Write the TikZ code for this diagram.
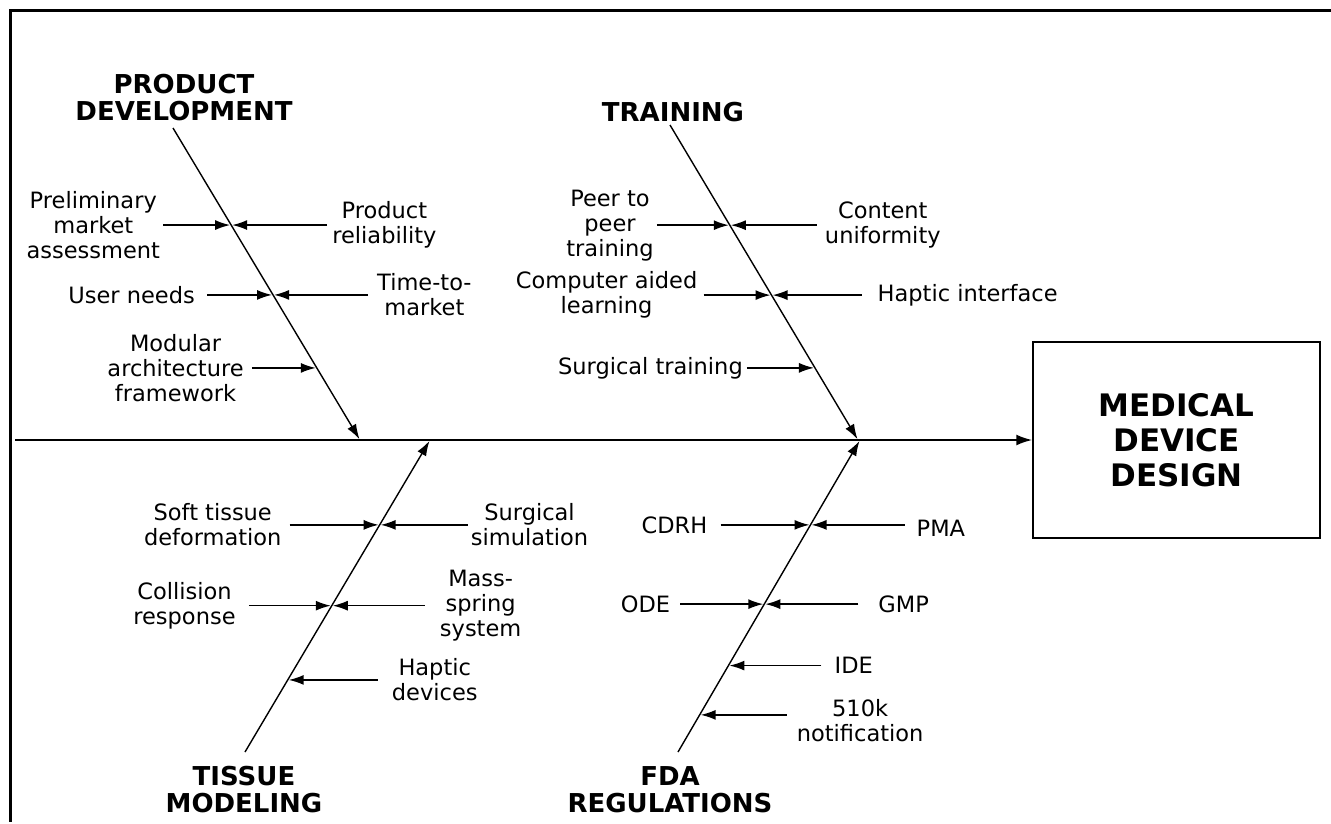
\documentclass[tikz,border=0pt]{standalone}
\usepackage{fontspec}
\setmainfont{DejaVu Sans}
\usetikzlibrary{arrows.meta,positioning}

\begin{document}
\begin{tikzpicture}[x=1pt,y=-1pt,shorten >=1pt,
        cause/.style={align=center,inner ysep=3pt,inner xsep=3pt,font=\fontsize{22.5}{25}\selectfont},
        pad/.style={inner xsep=#1},
        head/.style={align=center,inner sep=0pt,font=\fontsize{26}{27}\selectfont\bfseries},
        bone/.style={-{Latex[length=15pt,width=10pt]},line width=1.4pt},
        twig/.style={-{Latex[length=15pt,width=10pt]},line width=1.5pt}]
    \useasboundingbox (0,0) rectangle (1331,823);
    \draw[line width=3pt] (1331,10) -| (10,823);

    % effect and spine
    \node[draw, line width=1.5pt, minimum width=287pt, minimum height=196pt,
          align=center, font=\fontsize{31}{35}\selectfont\bfseries] (mdd) at (1176.5,440) {MEDICAL\\DEVICE\\DESIGN};
    \coordinate (tail) at (15,440);
    \draw[-{Latex[length=16pt,width=11pt]}, line width=2pt, shorten >=0pt] (tail) -- (mdd);

    % category heads
    \node[head] (pd)  at (184,98)  {PRODUCT\\DEVELOPMENT};
    \node[head] (tr)  at (673,112) {TRAINING};
    \node[head] (tm)  at (244,790) {TISSUE\\MODELING};
    \node[head] (fda) at (670,790) {FDA\\REGULATIONS};

    % bones
    \coordinate (pd-s)  at (173,128); \coordinate (pd-e)  at (360,440);
    \coordinate (tr-s)  at (670,125); \coordinate (tr-e)  at (858,440);
    \coordinate (tm-s)  at (245,752); \coordinate (tm-e)  at (430,440);
    \coordinate (fda-s) at (678,752); \coordinate (fda-e) at (860,440);
    \draw[bone] (pd-s) -- coordinate[pos=.311] (pd1) coordinate[pos=.535] (pd2)
        coordinate[pos=.769] (pd3) (pd-e);
    \draw[bone] (tr-s) -- coordinate[pos=.318] (tr1) coordinate[pos=.540] (tr2)
        coordinate[pos=.771] (tr3) (tr-e);
    \draw[bone] (tm-s) -- coordinate[pos=.728] (tm1) coordinate[pos=.469] (tm2)
        coordinate[pos=.231] (tm3) (tm-e);
    \draw[bone] (fda-s) -- coordinate[pos=.728] (fda1) coordinate[pos=.474] (fda2)
        coordinate[pos=.277] (fda3) coordinate[pos=.119] (fda4) (fda-e);

    % product development
    \node[cause, left=68pt of pd1]  (pd-pma) {Preliminary\\market\\assessment};
    \node[cause, pad=5pt, right=96pt of pd1] (pd-rel) {Product\\reliability};
    \node[cause, pad=12pt, left=66pt of pd2]  (pd-usr) {User needs};
    \node[cause, pad=9pt, right=95pt of pd2] (pd-ttm) {Time-to-\\market};
    \node[cause, pad=8pt, left=65pt of pd3]  (pd-maf) {Modular\\architecture\\framework};
    \path[twig] (pd-pma) edge (pd1) (pd-rel) edge (pd1)
                (pd-usr) edge (pd2) (pd-ttm) edge (pd2)
                (pd-maf) edge (pd3);

    % training
    \node[cause, left=73pt of tr1]  (tr-p2p) {Peer to\\peer\\training};
    \node[cause, pad=8pt, right=87pt of tr1] (tr-cu)  {Content\\uniformity};
    \node[cause, pad=6pt, left=68pt of tr2]  (tr-cal) {Computer aided\\learning};
    \node[cause, pad=16pt, right=90pt of tr2] (tr-hi)  {Haptic interface};
    \node[cause, pad=4pt, left=68pt of tr3]  (tr-st)  {Surgical training};
    \path[twig] (tr-p2p) edge (tr1) (tr-cu) edge (tr1)
                (tr-cal) edge (tr2) (tr-hi) edge (tr2)
                (tr-st) edge (tr3);

    % tissue modeling
    \node[cause, pad=8pt, left=90pt of tm1]  (tm-std) {Soft tissue\\deformation};
    \node[cause, right=88pt of tm1] (tm-ss)  {Surgical\\simulation};
    \node[cause, pad=13pt, left=83pt of tm2]  (tm-cr)  {Collision\\response};
    \node[cause, pad=15pt, right=93pt of tm2] (tm-mss) {Mass-\\spring\\system};
    \node[cause, pad=14pt, right=90pt of tm3] (tm-hd)  {Haptic\\devices};
    \path[twig] (tm-std) edge (tm1) (tm-ss) edge (tm1)
                (tm-cr) edge (tm2) (tm-mss) edge (tm2)
                (tm-hd) edge (tm3);

    % fda regulations
    \node[cause, pad=13pt, left=90pt of fda1]  (fda-cdrh) {CDRH};
    \node[cause, pad=12pt, right=94pt of fda1, yshift=-3pt] (fda-pma) {PMA};
    \node[cause, pad=10pt, left=84pt of fda2]  (fda-ode) {ODE};
    \node[cause, pad=20pt, right=94pt of fda2] (fda-gmp) {GMP};
    \node[cause, pad=13pt, right=93pt of fda3] (fda-ide) {IDE};
    \node[cause, pad=10pt, right=87pt of fda4, yshift=-6pt] (fda-510) {510k\\notification};
    \path[twig] (fda-cdrh) edge (fda1) (fda-pma.west |- fda1) edge (fda1)
                (fda-ode) edge (fda2) (fda-gmp) edge (fda2)
                (fda-ide) edge (fda3) (fda-510.west |- fda4) edge (fda4);
\end{tikzpicture}
\end{document}
